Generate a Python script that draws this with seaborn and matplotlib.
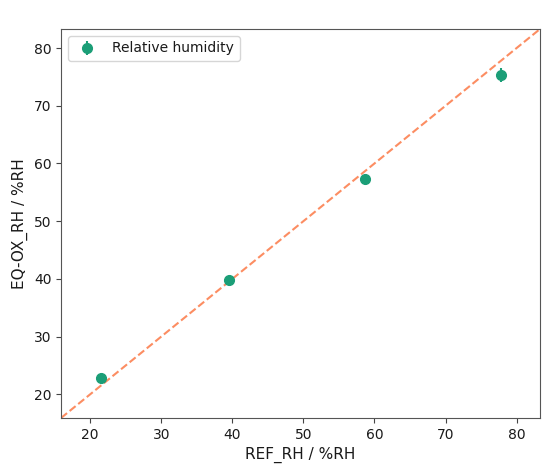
import numpy as np
import pandas as pd
import matplotlib
matplotlib.use("Agg")
import matplotlib.pyplot as plt
import seaborn as sns

# values
ref_rh = [21.5, 39.5, 58.6, 77.8]
eqox_rh = [22.8, 39.8, 57.3, 75.3]
eqox_err = [0.3, 0.3, 0.3, 1.15]
line_ends = [15.9, 83.3]

sns.set_style("ticks")
plt.rcParams["text.color"] = "#1a1a1a"
plt.rcParams["axes.labelcolor"] = "#1a1a1a"
plt.rcParams["xtick.color"] = "#1a1a1a"
plt.rcParams["ytick.color"] = "#1a1a1a"

df = pd.DataFrame({"REF_RH": ref_rh, "EQ-OX_RH": eqox_rh})
diag = pd.DataFrame({"x": line_ends, "y": line_ends})

fig, ax = plt.subplots(figsize=(5.5, 4.67), dpi=100)
fig.subplots_adjust(left=0.111, right=0.982, top=0.938, bottom=0.105)

sns.lineplot(data=diag, x="x", y="y", ax=ax, color="#fc8d62", linestyle="--", linewidth=1.5)
ax.errorbar(df["REF_RH"], df["EQ-OX_RH"], yerr=eqox_err, fmt="o", color="#1b9e77",
            markersize=7, elinewidth=1.5, label="Relative humidity", zorder=3)

ax.set_xlim(line_ends)
ax.set_ylim(line_ends)
ax.set_xticks([20, 30, 40, 50, 60, 70, 80])
ax.set_yticks([20, 30, 40, 50, 60, 70, 80])
ax.tick_params(labelsize=10, color="#444444")
for s in ax.spines.values():
    s.set_color("#555555")
ax.set_xlabel("REF_RH / %RH", fontsize=11)
ax.set_ylabel("EQ-OX_RH / %RH", fontsize=11)
ax.legend(loc="upper left", fontsize=10)

plt.savefig("out.png", dpi=100)
